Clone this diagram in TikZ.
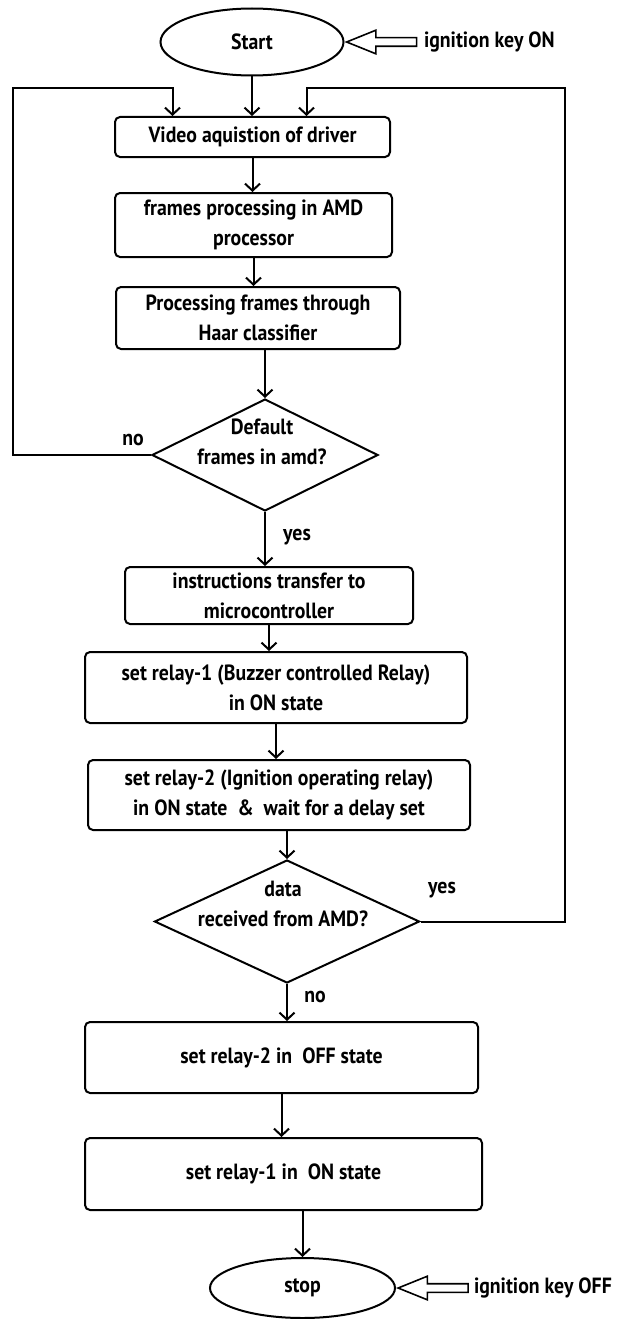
\documentclass[tikz,border=0pt]{standalone}
\usepackage{fontspec}
\setmainfont{PT Sans}[FakeStretch=0.9]
\usetikzlibrary{shapes.geometric,shapes.arrows,arrows.meta}
\tikzset{
  base/.style={line width=2pt, font=\fontsize{22}{30}\selectfont\bfseries},
  pbox/.style={draw, rounded corners=5pt, align=center, inner sep=0pt},
  term/.style={draw, ellipse, inner sep=0pt},
  dec/.style={draw, diamond, inner sep=0pt},
  txt/.style={align=center, inner sep=0pt},
  flow/.style={-{Straight Barb[length=7pt,width=15pt]}},
  keyarrow/.style={draw, single arrow, shape border rotate=180, inner sep=3.5pt,
     minimum width=22pt, minimum height=70pt, single arrow head extend=7.5pt,
     single arrow tip angle=44, line width=1.6pt, fill=white},
}
\begin{document}
\begin{tikzpicture}[x=1pt,y=-1pt,base]
\useasboundingbox (0,0) rectangle (619,1319);
\fill[white] (0,0) rectangle (619,1319);
% terminals
\node[term, minimum width=183pt, minimum height=67pt] (start) at (252,42) {Start};
\node[term, minimum width=185pt, minimum height=60pt] (stop) at (302.5,1288) {stop};
% process boxes
\node[pbox, minimum width=275pt, minimum height=40pt] (video) at (252.5,137) {Video aquistion of driver};
\node[pbox, minimum width=277pt, minimum height=64pt] (frames) at (253.5,225) {frames processing in AMD\\processor};
\node[pbox, minimum width=284pt, minimum height=62pt] (haar) at (258,318) {Processing frames through\\Haar classifier};
\node[dec, minimum width=226pt, minimum height=112pt] (dia1) at (265,455) {};
\node[txt] (dia1t) at (262,442) {Default\\frames in amd?};
\node[pbox, minimum width=288pt, minimum height=57pt] (instr) at (269,595.5) {instructions transfer to\\microcontroller};
\node[pbox, minimum width=382pt, minimum height=71pt] (relay1) at (276,687.5) {set relay-1 (Buzzer controlled Relay)\\in ON state};
\node[pbox, minimum width=382pt, minimum height=70pt] (relay2) at (279,795) {set relay-2 (Ignition operating relay)\\in ON state\ \ \&\ \ wait for a delay set};
\node[dec, minimum width=265pt, minimum height=123pt] (dia2) at (287,921.5) {};
\node[txt] (dia2t) at (283,904) {data\\received from AMD?};
\node[pbox, minimum width=393pt, minimum height=71pt] (off) at (281.5,1057.5) {set relay-2 in\ \ OFF state};
\node[pbox, minimum width=397pt, minimum height=72pt] (on) at (283.5,1174) {set relay-1 in\ \ ON state};
% labels
\node[txt] (no1) at (133,440) {no};
\node[txt] (yes1) at (297,537) {yes};
\node[txt] (yes2) at (442,890) {yes};
\node[txt] (no2) at (315,997) {no};
\node[txt, anchor=west] (keyon) at (423,42) {ignition key ON};
\node[txt, anchor=west] (keyoff) at (473,1288) {ignition key OFF};
% key arrows
\node[keyarrow, anchor=tip] (ka1) at (start.east) {};
\node[keyarrow, anchor=tip] (ka2) at (stop.east) {};
% connectors
\coordinate (lt) at (13,88);
\coordinate (rt) at (565,88);
\draw[flow] (start.south) -- (start.south |- video.north);
\draw[flow] (video.south) -- (video.south |- frames.north);
\draw[flow] (frames.south) -- (frames.south |- haar.north);
\draw[flow] (haar.south -| dia1.north) -- (dia1.north);
\draw[flow] (dia1.south) -- (dia1.south |- instr.north);
\draw[flow] (instr.south) -- (instr.south |- relay1.north);
\draw[flow] (relay1.south) -- (relay1.south |- relay2.north);
\draw[flow] (relay2.south -| dia2.north) -- (dia2.north);
\draw[flow] (dia2.south) -- (dia2.south |- off.north);
\draw[flow] (off.south) -- (off.south |- on.north);
\draw[flow] (on.south -| stop.north) -- (stop.north);
\draw[flow] (dia1.west) -| (lt) -| ([xshift=-80pt]video.north);
\draw[flow] (dia2.east) -| (rt) -| ([xshift=54pt]video.north);
\end{tikzpicture}
\end{document}
